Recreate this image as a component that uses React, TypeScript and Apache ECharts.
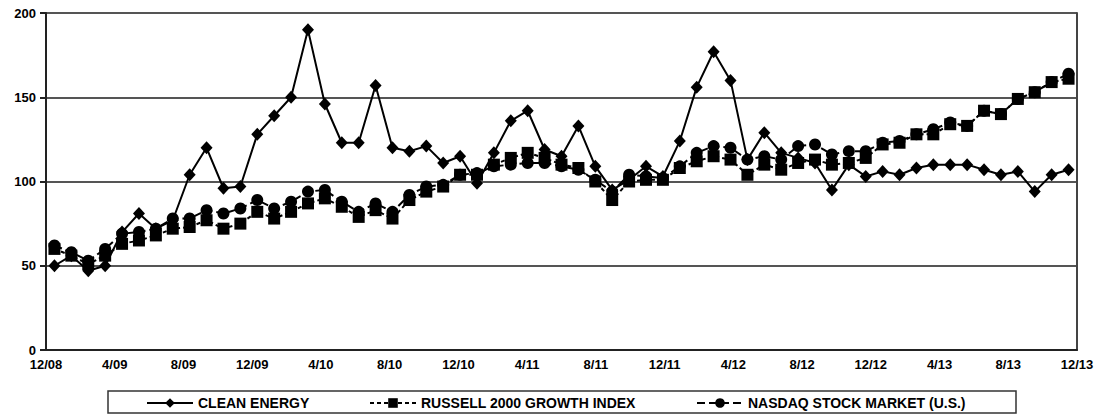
import React, { useEffect, useRef } from "react";
import * as echarts from "echarts";

const tickLabels = ["12/08","4/09","8/09","12/09","4/10","8/10","12/10","4/11","8/11","12/11","4/12","8/12","12/12","4/13","8/13","12/13"];

const cleanEnergy = [50,56,47,50,70,81,72,77,104,120,96,97,128,139,150,190,146,123,123,157,120,118,121,111,115,99,117,136,142,119,115,133,109,95,101,109,103,124,156,177,160,113,129,117,114,111,95,110,103,106,104,108,110,110,110,107,104,106,94,104,107];
const russell = [60,56,51,56,63,65,68,72,73,77,72,75,82,78,82,87,90,85,79,83,78,89,94,97,104,104,110,114,117,114,110,108,100,89,100,101,101,108,112,115,113,104,110,107,111,113,110,111,114,122,123,128,128,134,133,142,140,149,153,159,161];
const nasdaq = [62,58,53,60,69,70,72,78,78,83,81,84,89,84,88,94,95,88,82,87,82,92,97,98,104,105,109,110,111,111,109,107,101,94,104,103,102,109,117,121,120,113,115,113,121,122,116,118,118,123,124,128,131,135,133,142,140,149,153,159,164];

const seriesNames = ["CLEAN ENERGY", "RUSSELL 2000 GROWTH INDEX", "NASDAQ STOCK MARKET (U.S.)"];

export default function App() {
  const ref = useRef<HTMLDivElement>(null);
  useEffect(() => {
    const chart = echarts.init(ref.current!, null, { renderer: "svg" });
    const n = cleanEnergy.length;
    const axisCats: string[] = [];
    for (let i = 0; i < n; i++) axisCats.push(i % 4 === 0 ? tickLabels[i / 4] : "");
    const dataCats: string[] = axisCats.map((_, i) => "m" + i);
    const font = "'Liberation Sans', Arial, sans-serif";
    const legendText = { fontFamily: font, fontWeight: "bold" as const, fontSize: 14, color: "#000" };
    const mkLegend = (name: string, left: number) => ({
      show: true,
      data: [name],
      left,
      top: 396,
      itemWidth: 46,
      itemHeight: 12,
      padding: 0,
      textStyle: legendText,
    });
    chart.setOption({
      animation: false,
      backgroundColor: "#fff",
      grid: { left: 46, right: 25, top: 13, bottom: 70, containLabel: false },
      xAxis: [
        {
          type: "category",
          data: axisCats,
          boundaryGap: false,
          position: "bottom",
          axisLine: { show: true, lineStyle: { color: "#222", width: 2 } },
          axisTick: { show: false },
          axisLabel: { interval: 0, margin: 8, fontFamily: font, fontWeight: "bold", fontSize: 13, color: "#000" },
          splitLine: { show: false },
        },
        {
          type: "category",
          data: dataCats,
          boundaryGap: true,
          show: false,
        },
      ],
      yAxis: [
        {
          type: "value",
          min: 0,
          max: 200,
          interval: 50,
          axisLine: { show: true, lineStyle: { color: "#222", width: 2 } },
          axisTick: { show: true, length: 6, inside: false, lineStyle: { color: "#222", width: 2 } },
          axisLabel: { margin: 10, fontFamily: font, fontWeight: "bold", fontSize: 13, color: "#000" },
          splitLine: { show: true, lineStyle: { color: "#555", width: 2 } },
        },
        {
          type: "value",
          min: 0,
          max: 200,
          interval: 50,
          position: "right",
          axisLine: { show: true, lineStyle: { color: "#444", width: 2 } },
          axisTick: { show: false },
          axisLabel: { show: false },
          splitLine: { show: false },
        },
      ],
      legend: [
        mkLegend(seriesNames[0], 146),
        mkLegend(seriesNames[1], 369),
        mkLegend(seriesNames[2], 696),
      ],
      graphic: [
        {
          type: "rect",
          shape: { x: 108, y: 391, width: 908, height: 22 },
          style: { fill: "none", stroke: "#333", lineWidth: 1.5 },
          z: -1,
        },
      ],
      series: [
        {
          name: seriesNames[0],
          type: "line",
          xAxisIndex: 1,
          yAxisIndex: 0,
          data: cleanEnergy,
          symbol: "diamond",
          symbolSize: [12, 13],
          showAllSymbol: true,
          lineStyle: { color: "#000", width: 2, type: "solid" },
          itemStyle: { color: "#000" },
          z: 2,
        },
        {
          name: seriesNames[2],
          type: "line",
          xAxisIndex: 1,
          yAxisIndex: 0,
          data: nasdaq,
          symbol: "circle",
          symbolSize: 12,
          showAllSymbol: true,
          lineStyle: { color: "#000", width: 2, type: [8, 4] },
          itemStyle: { color: "#000" },
          z: 3,
        },
        {
          name: seriesNames[1],
          type: "line",
          xAxisIndex: 1,
          yAxisIndex: 0,
          data: russell,
          symbol: "rect",
          symbolSize: 12,
          showAllSymbol: true,
          lineStyle: { color: "#000", width: 2, type: [4, 3] },
          itemStyle: { color: "#000" },
          z: 4,
        },
      ],
    });
    return () => chart.dispose();
  }, []);
  return <div ref={ref} style={{ position: "fixed", left: 0, top: 0, width: 1102, height: 420 }} />;
}
